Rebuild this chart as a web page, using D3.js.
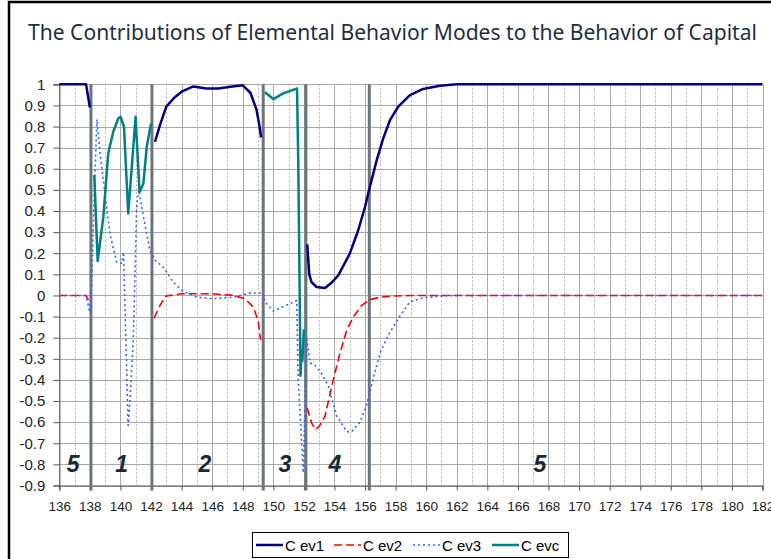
<!DOCTYPE html>
<html>
<head>
<meta charset="utf-8">
<script src="https://cdn.jsdelivr.net/npm/d3@7"></script>
<style>
  html, body { margin: 0; padding: 0; background: #fff; }
  svg { display: block; }
</style>
</head>
<body>
<svg id="chart" width="771" height="559"></svg>
<script>
// ---------- DATA ----------
const titleText = "The Contributions of Elemental Behavior Modes to the Behavior of Capital";
const xTicks = d3.range(136, 183, 2);
const xMinorTicks = d3.range(137, 182, 2);
const yTicks = [-0.9, -0.8, -0.7, -0.6, -0.5, -0.4, -0.3, -0.2, -0.1, 0, 0.1, 0.2, 0.3, 0.4, 0.5, 0.6, 0.7, 0.8, 0.9, 1];

// mode boundaries (dark vertical lines) and mode labels
const modeBoundaries = [138.07, 142.06, 149.34, 152.13, 156.28];
const modeLabels = ["5", "1", "2", "3", "4", "5"];
const modeLabelX = [136.91, 140.08, 145.53, 150.76, 154.03, 167.44];
const modeLabelY = -0.8;

// series: [x, value]; null marks a break in the line
const ev1 = [
  [136, 1], [137.75, 1], [138.0, 0.89], null,
  [142.26, 0.728], [142.6, 0.81], [143.0, 0.894], [143.5, 0.935], [144.0, 0.965], [144.77, 0.99],
  [145.6, 0.98], [146.4, 0.98], [147.2, 0.988], [148.0, 0.995], [148.5, 0.96], [148.9, 0.88],
  [149.1, 0.8], [149.2, 0.748], null,
  [152.22, 0.242], [152.35, 0.1], [152.5, 0.063], [152.83, 0.04], [153.38, 0.035], [153.8, 0.06],
  [154.25, 0.095], [155.0, 0.198], [155.56, 0.31], [156.0, 0.42], [156.3, 0.51], [156.76, 0.64],
  [157.19, 0.744], [157.63, 0.83], [158.17, 0.894], [158.94, 0.949], [159.8, 0.978], [160.9, 0.993],
  [162.0, 1.0], [182, 1.0]
];
const ev2 = [
  [136, 0], [137.75, 0], [138.0, -0.035], null,
  [142.2, -0.107], [142.59, -0.047], [142.96, -0.003], [144.0, 0.008], [146.0, 0.008], [147.38, 0.0],
  [148.15, -0.016], [148.69, -0.055], [149.0, -0.118], [149.17, -0.21], null,
  [152.22, -0.533], [152.5, -0.603], [152.75, -0.635], [153.0, -0.62], [153.38, -0.572], [153.92, -0.40],
  [154.36, -0.274], [154.8, -0.165], [155.23, -0.102], [155.78, -0.047], [156.32, -0.02], [156.97, -0.008],
  [157.84, -0.003], [159.0, 0], [182, 0]
];
const ev3 = [
  [136, 0], [137.75, 0], [138.0, -0.08], [138.12, 0.05], [138.25, 0.4], [138.46, 0.834], [138.67, 0.67],
  [138.99, 0.48], [139.32, 0.29], [139.75, 0.158], [140.08, 0.152], [140.2, 0.205], [140.35, -0.2],
  [140.5, -0.616], [140.62, -0.5], [140.84, -0.21], [140.95, 0.1], [141.06, 0.42], [141.2, 0.5],
  [141.39, 0.42], [141.72, 0.29], [141.93, 0.21], [142.1, 0.19], [142.26, 0.166], [142.8, 0.134],
  [143.46, 0.063], [144.0, 0.024], [144.99, -0.008], [146.07, -0.016], [147.38, -0.008], [148.47, 0.011],
  [149.34, 0.012], [149.45, -0.03], [150.0, -0.074], [151.53, -0.024], [151.63, -0.40], [151.96, -0.84],
  [152.18, -0.2], [152.4, -0.32], [152.72, -0.33], [153.16, -0.37], [153.6, -0.43], [154.14, -0.57],
  [154.8, -0.645], [155.12, -0.645], [155.67, -0.60], [156.1, -0.52], [156.65, -0.36], [157.0, -0.27],
  [157.5, -0.19], [158.3, -0.095], [158.94, -0.03], [159.8, -0.011], [161.1, -0.002], [162, 0], [182, 0]
];
const evc = [
  [138.29, 0.57], [138.51, 0.163], [138.88, 0.372], [139.2, 0.672], [139.53, 0.775], [139.86, 0.839],
  [140.01, 0.846], [140.23, 0.8], [140.51, 0.388], [140.99, 0.846], [141.25, 0.49], [141.5, 0.53],
  [141.72, 0.704], [142.0, 0.815], null,
  [149.45, 0.962], [150.0, 0.93], [150.65, 0.957], [151.48, 0.978], [151.55, 0.98], [151.63, 0.64],
  [151.74, -0.1], [151.78, -0.38], [151.85, -0.27], [151.9, -0.31], [152.0, -0.16]
];

const seriesNames = ["C ev1", "C ev2", "C ev3", "C evc"];
const seriesData = [ev1, ev2, ev3, evc];

// ---------- STYLE ----------
const seriesStyle = [
  { color: "#000080", width: 2.5, dash: null },
  { color: "#ff0000", width: 1.6, dash: "8,4" },
  { color: "#3366ff", width: 1.6, dash: "2,3" },
  { color: "#008080", width: 2.5, dash: null }
];

const svg = d3.select("#chart");
const plot = { left: 59.3, right: 762.5, top: 84.3, bottom: 485.5 };

// frame
svg.append("path")
  .attr("d", "M9,559 L9,2 L771,2")
  .attr("fill", "none").attr("stroke", "#000").attr("stroke-width", 2.5);

// title
const title = svg.append("text")
  .attr("x", 392.5).attr("y", 39.5)
  .attr("text-anchor", "middle")
  .attr("fill", "#1f2f3f")
  .style("font-family", "'Noto Sans', 'DejaVu Sans', sans-serif")
  .style("font-size", "20px")
  .text(titleText);
const tw = title.node().getComputedTextLength();
title.style("font-size", (20 * 729 / tw).toFixed(2) + "px");

const x = d3.scaleLinear().domain([136, 182]).range([plot.left, plot.right]);
const y = d3.scaleLinear().domain([-0.9, 1]).range([plot.bottom, plot.top]);

const grid = svg.append("g");
// horizontal gridlines
grid.selectAll("line.h").data(yTicks).join("line")
  .attr("x1", plot.left).attr("x2", plot.right)
  .attr("y1", d => Math.round(y(d)) + 0.5).attr("y2", d => Math.round(y(d)) + 0.5)
  .attr("stroke", "#a9a9a9").attr("stroke-width", 1);
// minor vertical dotted
grid.selectAll("line.vm").data(xMinorTicks).join("line")
  .attr("x1", d => Math.round(x(d)) + 0.5).attr("x2", d => Math.round(x(d)) + 0.5)
  .attr("y1", plot.top).attr("y2", plot.bottom)
  .attr("stroke", "#b3b3b3").attr("stroke-width", 1).attr("stroke-dasharray", "2,2");
// major vertical solid
grid.selectAll("line.vM").data(xTicks.slice(1)).join("line")
  .attr("x1", d => Math.round(x(d)) + 0.5).attr("x2", d => Math.round(x(d)) + 0.5)
  .attr("y1", plot.top).attr("y2", plot.bottom)
  .attr("stroke", "#a9a9a9").attr("stroke-width", 1);

// axes
const fmt = d => d === 0 ? "0" : String(+d.toFixed(1));
const xAxis = svg.append("g")
  .attr("transform", `translate(0,${plot.bottom})`)
  .call(d3.axisBottom(x).tickValues(xTicks).tickSize(5).tickPadding(11).tickFormat(d3.format("d")));
const yAxis = svg.append("g")
  .attr("transform", `translate(${plot.left},0)`)
  .call(d3.axisLeft(y).tickValues(yTicks).tickSize(6).tickPadding(8).tickFormat(fmt));
[xAxis, yAxis].forEach(g => {
  g.select(".domain").attr("stroke", "#555").attr("stroke-width", 1.2);
  g.selectAll(".tick line").attr("stroke", "#555");
  g.selectAll(".tick text")
    .attr("fill", "#222")
    .style("font-family", "'Liberation Sans', Arial, sans-serif");
});
xAxis.selectAll(".tick text").style("font-size", "13.5px");
yAxis.selectAll(".tick text").style("font-size", "15px");

// mode boundaries
svg.append("g").selectAll("line").data(modeBoundaries).join("line")
  .attr("x1", d => x(d)).attr("x2", d => x(d))
  .attr("y1", plot.top).attr("y2", plot.bottom + 5)
  .attr("stroke", "#6b757c").attr("stroke-width", 3);

// series
const line = d3.line()
  .defined(d => d !== null)
  .x(d => x(d[0])).y(d => y(d[1]));
svg.append("g").selectAll("path").data(seriesData).join("path")
  .attr("d", d => line(d))
  .attr("fill", "none")
  .attr("stroke", (d, i) => seriesStyle[i].color)
  .attr("stroke-width", (d, i) => seriesStyle[i].width)
  .attr("stroke-dasharray", (d, i) => seriesStyle[i].dash)
  .attr("stroke-linejoin", "round");

// mode labels
svg.append("g").selectAll("text").data(modeLabels).join("text")
  .attr("x", (d, i) => x(modeLabelX[i]))
  .attr("y", y(modeLabelY) + 8)
  .attr("text-anchor", "middle")
  .attr("fill", "#17283a")
  .style("font-family", "'Liberation Sans', Arial, sans-serif")
  .style("font-size", "23px").style("font-weight", "bold").style("font-style", "italic")
  .text(d => d);

// legend
const legend = svg.append("g");
legend.append("rect")
  .attr("x", 252.5).attr("y", 532.5).attr("width", 316).attr("height", 25)
  .attr("fill", "#fff").attr("stroke", "#000").attr("stroke-width", 1);
const legendSampleX = [256, 334, 413, 492];
legendSampleX.forEach((lx, i) => {
  const s = seriesStyle[i];
  legend.append("line")
    .attr("x1", lx).attr("x2", lx + 27).attr("y1", 545).attr("y2", 545)
    .attr("stroke", s.color).attr("stroke-width", s.width)
    .attr("stroke-dasharray", s.dash);
  legend.append("text")
    .attr("x", lx + 29).attr("y", 550.5)
    .attr("fill", "#000")
    .style("font-family", "'Liberation Sans', Arial, sans-serif")
    .style("font-size", "15px")
    .text(seriesNames[i]);
});
</script>
</body>
</html>
